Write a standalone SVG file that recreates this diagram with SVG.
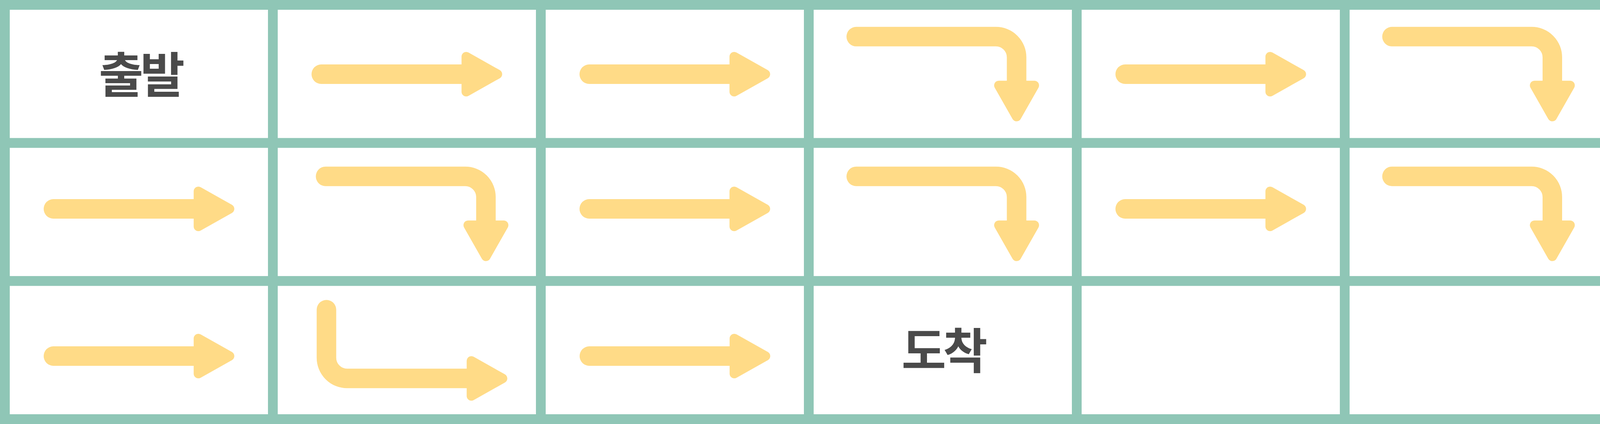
<svg xmlns="http://www.w3.org/2000/svg" xmlns:xlink="http://www.w3.org/1999/xlink" width="4141" height="1086" viewBox="0 0 4141 1086">
<style>
.cell{fill:#FFFFFF;stroke:#8FC6B6;stroke-width:25}
.shaft{fill:none;stroke:#FFDB87;stroke-width:50;stroke-linecap:round;stroke-linejoin:round}
.head{fill:#FFDB87;stroke:#FFDB87;stroke-width:24;stroke-linejoin:round}
.label{font-family:"Noto Sans CJK KR","Noto Sans",sans-serif;font-weight:700;font-size:124px;fill:#4A4A4A;text-anchor:middle;letter-spacing:-8px}
</style>
<defs>
<g id="arrowR">
<path class="shaft" d="M-219,0 H152"/>
<polygon class="head" points="152,-45 152,45 232,0"/>
</g>
<g id="arrowRD">
<path class="shaft" d="M-410.5,0 H-53 A53,53 0 0 1 0,53 V130"/>
<polygon class="head" points="-45.5,125 45.5,125 0,205"/>
</g>
</defs>
<rect x="0" y="0" width="4141" height="1086" fill="#FFFFFF"/>
<g id="cells">
<g id="cell-r0c0"><rect class="cell" x="12.5" y="12.5" width="686" height="353.7"/></g>
<g id="cell-r0c1"><rect class="cell" x="698.5" y="12.5" width="686" height="353.7"/></g>
<g id="cell-r0c2"><rect class="cell" x="1384.5" y="12.5" width="686" height="353.7"/></g>
<g id="cell-r0c3"><rect class="cell" x="2070.5" y="12.5" width="686" height="353.7"/></g>
<g id="cell-r0c4"><rect class="cell" x="2756.5" y="12.5" width="686" height="353.7"/></g>
<g id="cell-r0c5"><rect class="cell" x="3442.5" y="12.5" width="686" height="353.7"/></g>
<g id="cell-r1c0"><rect class="cell" x="12.5" y="366.2" width="686" height="353.6"/></g>
<g id="cell-r1c1"><rect class="cell" x="698.5" y="366.2" width="686" height="353.6"/></g>
<g id="cell-r1c2"><rect class="cell" x="1384.5" y="366.2" width="686" height="353.6"/></g>
<g id="cell-r1c3"><rect class="cell" x="2070.5" y="366.2" width="686" height="353.6"/></g>
<g id="cell-r1c4"><rect class="cell" x="2756.5" y="366.2" width="686" height="353.6"/></g>
<g id="cell-r1c5"><rect class="cell" x="3442.5" y="366.2" width="686" height="353.6"/></g>
<g id="cell-r2c0"><rect class="cell" x="12.5" y="719.8" width="686" height="353.7"/></g>
<g id="cell-r2c1"><rect class="cell" x="698.5" y="719.8" width="686" height="353.7"/></g>
<g id="cell-r2c2"><rect class="cell" x="1384.5" y="719.8" width="686" height="353.7"/></g>
<g id="cell-r2c3"><rect class="cell" x="2070.5" y="719.8" width="686" height="353.7"/></g>
<g id="cell-r2c4"><rect class="cell" x="2756.5" y="719.8" width="686" height="353.7"/></g>
<g id="cell-r2c5"><rect class="cell" x="3442.5" y="719.8" width="686" height="353.7"/></g>
</g>
<g id="start"><text class="label" x="359" y="237">출발</text></g>
<g id="end"><text class="label" x="2414" y="944">도착</text></g>
<g id="connectors">
<use xlink:href="#arrowR" transform="translate(1041.5,190)"/>
<use xlink:href="#arrowR" transform="translate(1727.5,190)"/>
<use xlink:href="#arrowRD" transform="translate(2602.5,93.8)"/>
<use xlink:href="#arrowR" transform="translate(3099.5,190)"/>
<use xlink:href="#arrowRD" transform="translate(3974,93.8)"/>
<use xlink:href="#arrowR" transform="translate(355.8,535)"/>
<use xlink:href="#arrowRD" transform="translate(1244,451.7)"/>
<use xlink:href="#arrowR" transform="translate(1727.5,535)"/>
<use xlink:href="#arrowRD" transform="translate(2602.5,451.7)"/>
<use xlink:href="#arrowR" transform="translate(3099.5,535)"/>
<use xlink:href="#arrowRD" transform="translate(3974,451.7)"/>
<use xlink:href="#arrowR" transform="translate(355.8,912)"/>
<g transform="translate(835.7,969.3)">
<path class="shaft" d="M0,-176 V-53 A53,53 0 0 0 53,0 H375"/>
<polygon class="head" points="371,-45 371,45 451,0"/>
</g>
<use xlink:href="#arrowR" transform="translate(1727.8,912)"/>
</g>
</svg>
